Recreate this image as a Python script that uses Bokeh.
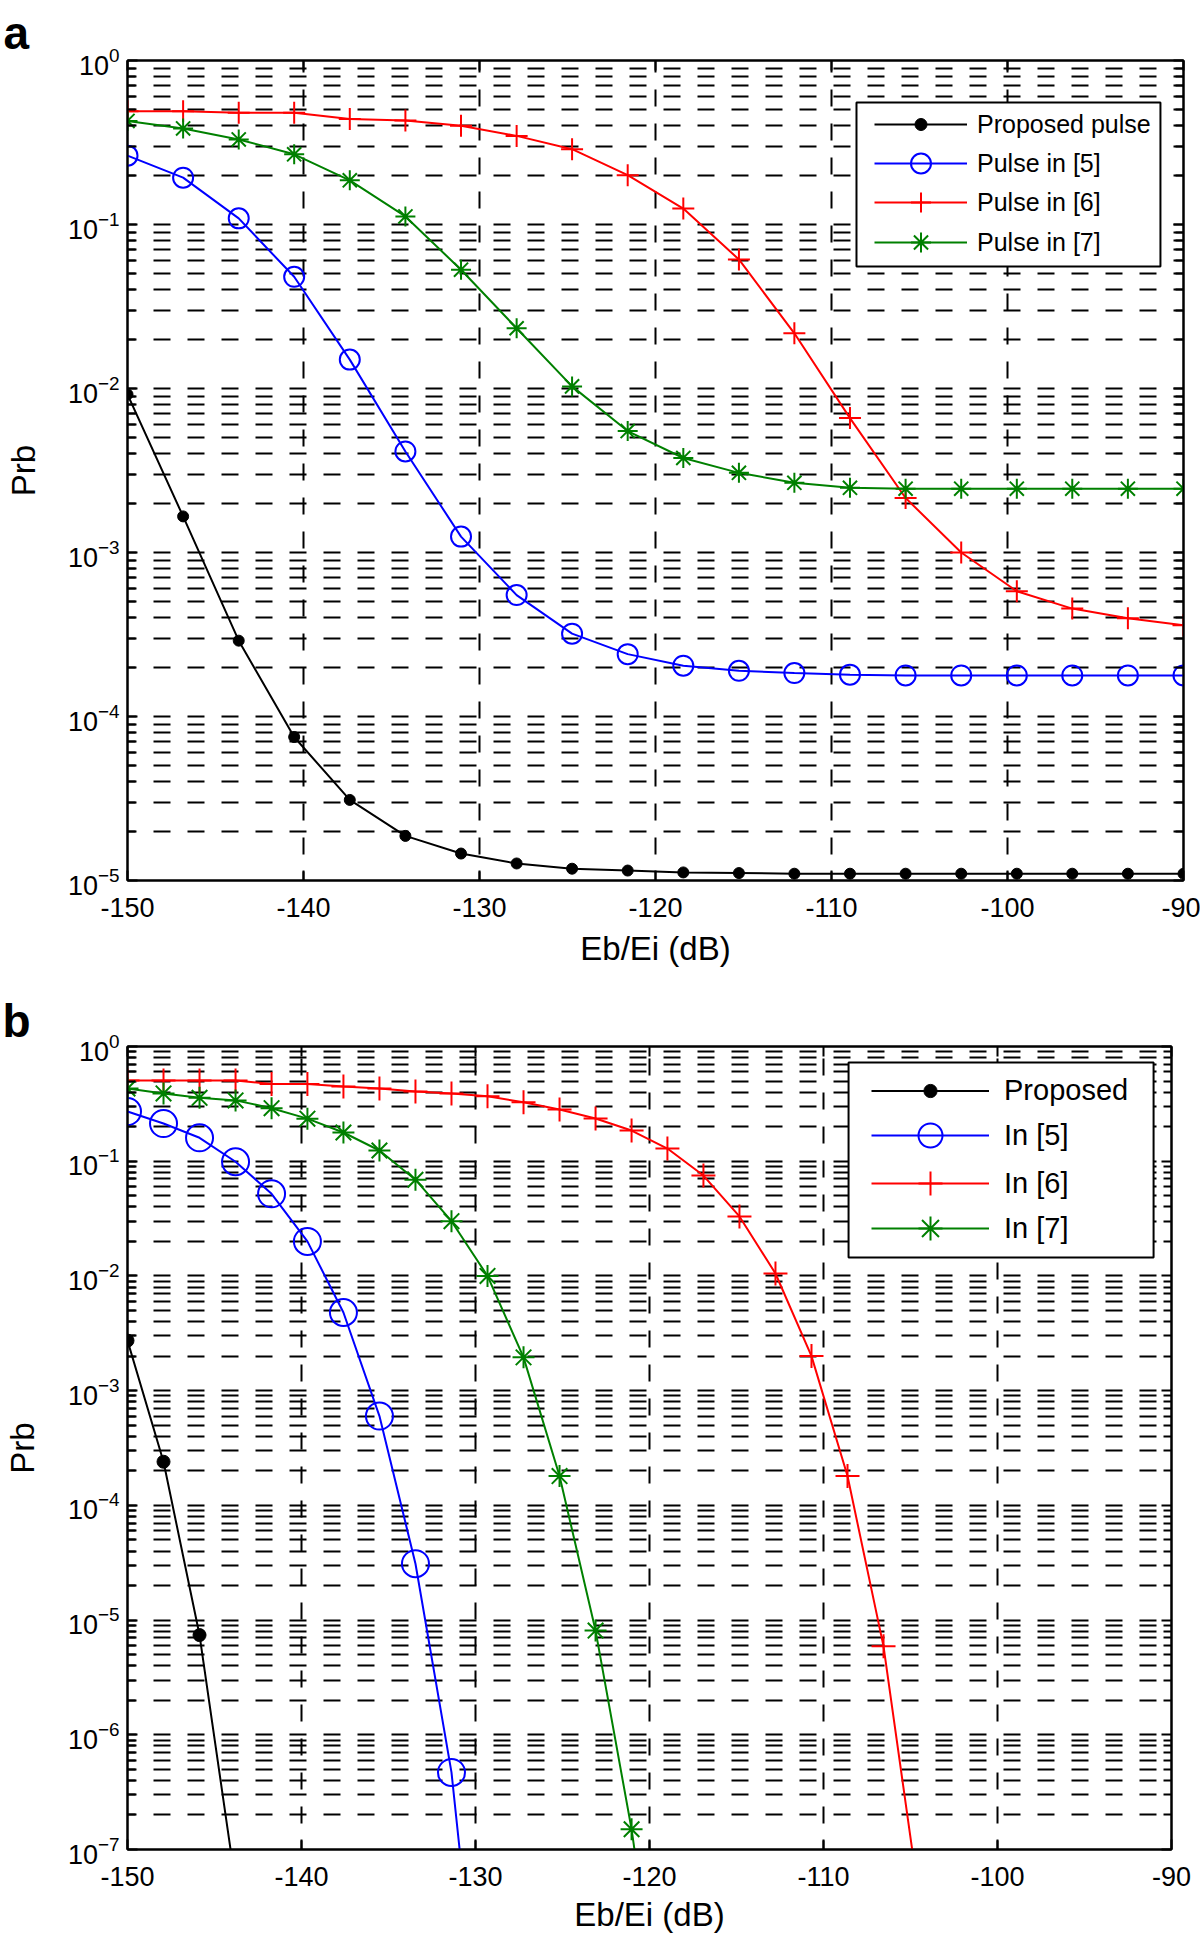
from bokeh.plotting import figure
from bokeh.models import (FixedTicker, LogAxis, LinearAxis, Legend, LegendItem,
                          CustomJSTickFormatter, LogTickFormatter, BoxAnnotation)
from bokeh.layouts import column
from bokeh.embed import file_html
from bokeh.resources import INLINE

FONT = "Liberation Sans"

# ---------------- Panel a data ----------------
a_x = [-150, -146.84, -143.68, -140.53, -137.37, -134.21, -131.05, -127.89, -124.74, -121.58,
       -118.42, -115.26, -112.11, -108.95, -105.79, -102.63, -99.47, -96.32, -93.16, -90]
a_proposed = [9.2e-3, 1.66e-3, 2.9e-4, 7.5e-5, 3.1e-5, 1.87e-5, 1.46e-5, 1.27e-5, 1.18e-5, 1.15e-5,
              1.12e-5, 1.11e-5, 1.1e-5, 1.1e-5, 1.1e-5, 1.1e-5, 1.1e-5, 1.1e-5, 1.1e-5, 1.1e-5]
a_p5 = [0.263, 0.193, 0.109, 0.048, 0.0150, 4.13e-3, 1.25e-3, 5.5e-4, 3.2e-4, 2.4e-4,
        2.04e-4, 1.9e-4, 1.84e-4, 1.8e-4, 1.78e-4, 1.78e-4, 1.78e-4, 1.78e-4, 1.78e-4, 1.78e-4]
a_p6 = [0.49, 0.49, 0.48, 0.48, 0.44, 0.43, 0.40, 0.347, 0.288, 0.20,
        0.125, 0.0612, 0.0217, 6.6e-3, 2.15e-3, 1.0e-3, 5.8e-4, 4.55e-4, 3.97e-4, 3.6e-4]
a_p7 = [0.428, 0.385, 0.33, 0.268, 0.186, 0.112, 0.053, 0.0233, 0.0103, 5.5e-3,
        3.77e-3, 3.06e-3, 2.66e-3, 2.48e-3, 2.45e-3, 2.45e-3, 2.45e-3, 2.45e-3, 2.45e-3, 2.45e-3]
a_labels = ["Proposed pulse", "Pulse in [5]", "Pulse in [6]", "Pulse in [7]"]

# ---------------- Panel b data ----------------
b_x = [-150, -147.93, -145.86, -143.79, -141.72, -139.66, -137.59, -135.52, -133.45, -131.38,
       -129.31, -127.24, -125.17, -123.10, -121.03, -118.97, -116.90, -114.83, -112.76, -110.69,
       -108.62, -106.55, -104.48]
b_proposed = [2.73e-3, 2.4e-4, 7.4e-6, 5e-8]
b_p5 = [0.271, 0.213, 0.160, 0.099, 0.052, 0.020, 4.8e-3, 6.0e-4, 3.1e-5, 4.7e-7, 5e-10]
b_p6 = [0.505, 0.505, 0.505, 0.505, 0.47, 0.47, 0.447, 0.43, 0.405, 0.39, 0.368, 0.326, 0.282,
        0.236, 0.185, 0.129, 0.075, 0.033, 0.0105, 2.0e-3, 1.8e-4, 5.9e-6, 3.5e-8]
b_p7 = [0.43, 0.39, 0.357, 0.339, 0.29, 0.235, 0.178, 0.124, 0.069, 0.030, 0.0100, 1.95e-3,
        1.8e-4, 8.1e-6, 1.5e-7, 1e-9]
b_labels = ["Proposed", "In [5]", "In [6]", "In [7]"]

x_ticks = [-150, -140, -130, -120, -110, -100, -90]
x_tick_labels = ["-150", "-140", "-130", "-120", "-110", "-100", "-90"]
x_title = "Eb/Ei (dB)"
y_title = "Prb"

COLORS = ["black", "#0000ff", "#ff0000", "#008000"]
MARKERS = ["circle", "circle", "cross", "asterisk"]


def make_panel(xs, series, labels, ymin_exp, frame_w, frame_h, borders, marker_sizes,
               leg, letter, letter_offset, letter_standoff, xlab_standoff, ylab_standoff):
    left, right, top, bottom = borders
    p = figure(frame_width=frame_w, frame_height=frame_h, y_axis_type="log",
               x_range=(-150, -90), y_range=(10.0 ** ymin_exp, 1.0),
               output_backend="svg", toolbar_location=None,
               min_border_left=left, min_border_right=right,
               min_border_top=top, min_border_bottom=bottom)
    p.background_fill_color = "white"
    p.outline_line_color = "black"
    p.outline_line_width = 2

    # panel letter as the (left aligned) title
    p.title.text = letter
    p.title.align = "left"
    p.title.offset = letter_offset
    p.title.standoff = letter_standoff
    p.title.text_font = FONT
    p.title.text_font_size = "46px"
    p.title.text_font_style = "bold"
    p.title.text_color = "black"

    y_major = [10.0 ** e for e in range(ymin_exp, 1)]
    y_minor = [m * 10.0 ** e for e in range(ymin_exp, 0) for m in range(2, 10)]
    yticker = FixedTicker(ticks=y_major, minor_ticks=y_minor)
    xticker = FixedTicker(ticks=x_ticks)

    yax = p.yaxis[0]
    yax.ticker = yticker
    yax.formatter = LogTickFormatter()
    xax = p.xaxis[0]
    xax.ticker = xticker
    xax.major_label_overrides = {t: s for t, s in zip(x_ticks, x_tick_labels)}
    xax.axis_label = x_title
    yax.axis_label = y_title

    blank = CustomJSTickFormatter(code="return ''")
    rax = LogAxis(ticker=yticker, formatter=blank)
    tax = LinearAxis(ticker=xticker, formatter=blank)
    p.add_layout(rax, "right")
    p.add_layout(tax, "above")

    for ax in [yax, xax, rax, tax]:
        ax.axis_line_color = "black"
        ax.axis_line_width = 2
        ax.major_tick_line_color = "black"
        ax.major_tick_line_width = 2
        ax.major_tick_in = 10
        ax.major_tick_out = 0
        ax.minor_tick_in = 8
        ax.minor_tick_out = 0
        ax.minor_tick_line_color = "black"
        ax.minor_tick_line_width = 2
        ax.major_label_text_font = FONT
        ax.major_label_text_font_size = "27px"
        ax.major_label_text_color = "black"
        ax.axis_label_text_font = FONT
        ax.axis_label_text_font_size = "33px"
        ax.axis_label_text_font_style = "normal"
        ax.axis_label_text_color = "black"
    for ax in [rax, tax]:
        ax.major_label_text_font_size = "0px"
        ax.major_label_standoff = 0
    xax.minor_tick_line_color = None
    tax.minor_tick_line_color = None
    xax.major_label_standoff = 17
    xax.axis_label_standoff = xlab_standoff
    yax.major_label_standoff = 8
    yax.axis_label_standoff = ylab_standoff

    for g in [p.xgrid[0], p.ygrid[0]]:
        g.grid_line_color = "black"
        g.grid_line_width = 2
        g.grid_line_dash = "17 17"
        g.grid_line_dash_offset = 8
        g.grid_line_alpha = 1.0
    p.xgrid[0].ticker = xticker
    p.ygrid[0].ticker = yticker
    p.ygrid[0].minor_grid_line_color = "black"
    p.ygrid[0].minor_grid_line_width = 2
    p.ygrid[0].minor_grid_line_dash = "17 17"
    p.ygrid[0].minor_grid_line_dash_offset = 8

    items = []
    for i, (ys, lab) in enumerate(zip(series, labels)):
        n = len(ys)
        xx = xs[:n]
        col = COLORS[i]
        ln = p.line(xx, ys, line_color=col, line_width=2)
        if i == 0:
            sc = p.scatter(xx, ys, marker="circle", size=marker_sizes[0],
                           line_color=col, fill_color=col)
        else:
            sc = p.scatter(xx, ys, marker=MARKERS[i], size=marker_sizes[i],
                           line_color=col, fill_color=None, line_width=2)
        items.append(LegendItem(label=lab, renderers=[ln, sc]))

    # legend frame (white box with black border)
    bl, br, bt, bb = leg["box"]
    p.add_layout(BoxAnnotation(left=bl, right=br, top=bt, bottom=bb,
                               fill_color="white", fill_alpha=1.0,
                               line_color="black", line_width=2, line_alpha=1.0))
    common = dict(margin=0, padding=0, spacing=0, glyph_width=leg["gw"],
                  label_standoff=leg["standoff"],
                  label_text_font=FONT, label_text_font_size=leg["fs"],
                  label_text_color="black", border_line_color=None,
                  background_fill_alpha=0.0)
    for item, loc, h in zip(items, leg["locs"], leg["hs"]):
        p.add_layout(Legend(items=[item], location=loc, glyph_height=h, label_height=h,
                            **common), "center")
    return p


pa = make_panel(a_x, [a_proposed, a_p5, a_p6, a_p7], a_labels, -5,
                frame_w=1056, frame_h=820, borders=(126, 18, 60, 94),
                marker_sizes=[11, 20, 22, 20],
                leg=dict(box=(-108.58, -91.31, 0.5546, 0.05546), gw=93, standoff=10, fs="25px",
                         locs=[(747, 741), (747, 692), (747, 653), (747, 613)],
                         hs=[30, 50, 50, 50]),
                letter="a", letter_offset=-124, letter_standoff=4,
                xlab_standoff=10, ylab_standoff=23)

pb = make_panel(b_x, [b_proposed, b_p5, b_p6, b_p7], b_labels, -7,
                frame_w=1044, frame_h=803, borders=(127, 29, 72, 92),
                marker_sizes=[13, 27, 24, 22],
                leg=dict(box=(-108.56, -91.03, 0.7253, 0.01446), gw=118, standoff=15, fs="29px",
                         locs=[(744, 742), (744, 684), (744, 636), (744, 591)],
                         hs=[33, 60, 60, 60]),
                letter="b", letter_offset=-125, letter_standoff=0,
                xlab_standoff=7, ylab_standoff=24)

layout = column(pa, pb, spacing=0)
open("out.html", "w").write(file_html(layout, INLINE))
